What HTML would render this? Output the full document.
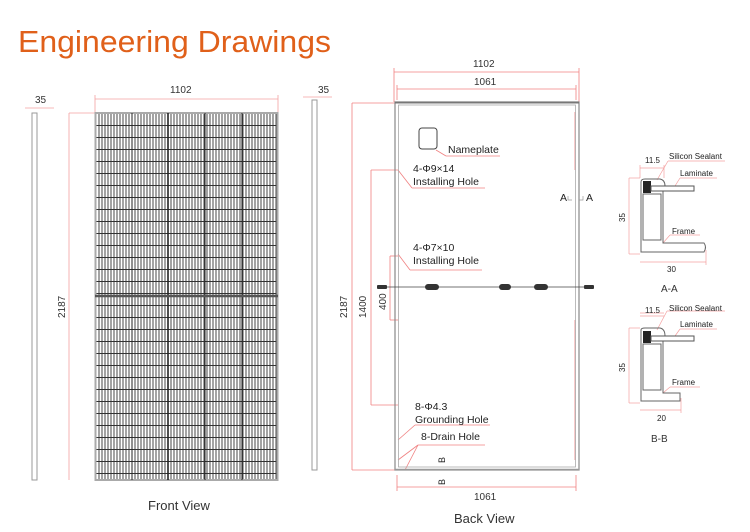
<!DOCTYPE html>
<html><head><meta charset="utf-8"><style>
html,body{margin:0;padding:0;background:#fff;}
svg{display:block;font-family:"Liberation Sans",sans-serif;}
</style></head><body>
<svg width="750" height="532" viewBox="0 0 750 532" xmlns="http://www.w3.org/2000/svg">
<defs>
<pattern id="cells" x="95" y="113" width="3" height="12" patternUnits="userSpaceOnUse">
<rect width="3" height="12" fill="#fff"/>
<line x1="1" y1="0" x2="1" y2="12" stroke="#333" stroke-width="0.9"/>
<line x1="0" y1="0.5" x2="3" y2="0.5" stroke="#333" stroke-width="1"/>
</pattern>
</defs>
<text x="18" y="52" font-size="31" fill="#e0601a" textLength="313" lengthAdjust="spacingAndGlyphs">Engineering Drawings</text>

<!-- left side profile -->
<g stroke="#f4a0a0" stroke-width="0.8" fill="none">
<line x1="25" y1="108" x2="54" y2="108"/>
<line x1="69" y1="113" x2="69" y2="480"/>
<line x1="69" y1="113" x2="95" y2="113"/>
<line x1="95" y1="99" x2="278" y2="99"/>
<line x1="95" y1="95" x2="95" y2="112"/>
<line x1="278" y1="95" x2="278" y2="112"/>
<line x1="303" y1="97" x2="332" y2="97"/>
</g>
<text x="35" y="103" font-size="10" fill="#333">35</text>
<text x="170" y="93" font-size="10" fill="#333">1102</text>
<text x="318" y="93" font-size="10" fill="#333">35</text>
<text transform="translate(65,318) rotate(-90)" font-size="10" fill="#333">2187</text>
<rect x="32" y="113" width="5" height="367" fill="none" stroke="#999" stroke-width="1"/>
<rect x="312" y="100" width="5" height="370" fill="none" stroke="#999" stroke-width="1"/>

<!-- front panel -->
<rect x="95" y="113" width="183" height="367" fill="url(#cells)"/>
<rect x="95.5" y="113" width="182" height="367" fill="none" stroke="#aaa" stroke-width="2"/>
<g stroke="#222" stroke-width="1.6">
<line x1="168" y1="113" x2="168" y2="480"/>
<line x1="132" y1="113" x2="132" y2="480" stroke-width="1"/>
<line x1="205" y1="113" x2="205" y2="480" stroke-width="1"/>
<line x1="242" y1="113" x2="242" y2="480" stroke-width="1"/>
</g>
<line x1="95" y1="296" x2="278" y2="296" stroke="#555" stroke-width="2.5"/>
<text x="148" y="510" font-size="13" fill="#333">Front View</text>

<!-- back view dims -->
<g stroke="#f08080" stroke-width="0.8" fill="none">
<line x1="394" y1="72" x2="579" y2="72"/>
<line x1="394" y1="68" x2="394" y2="102"/>
<line x1="579" y1="68" x2="579" y2="102"/>
<line x1="397" y1="89" x2="576" y2="89"/>
<line x1="397" y1="85" x2="397" y2="100"/>
<line x1="576" y1="85" x2="576" y2="100"/>
<line x1="352" y1="103" x2="395" y2="103"/>
<line x1="352" y1="103" x2="352" y2="470"/>
<line x1="352" y1="470" x2="395" y2="470"/>
<line x1="371" y1="170" x2="398" y2="170"/>
<line x1="371" y1="170" x2="371" y2="405"/>
<line x1="371" y1="405" x2="398" y2="405"/>
<line x1="390" y1="256" x2="398" y2="256"/>
<line x1="390" y1="256" x2="390" y2="320"/>
<line x1="390" y1="320" x2="398" y2="320"/>
<line x1="397" y1="475" x2="397" y2="491"/>
<line x1="576" y1="475" x2="576" y2="491"/>
<line x1="397" y1="487" x2="576" y2="487"/>
<line x1="575" y1="112" x2="575" y2="170"/>
<line x1="575" y1="320" x2="575" y2="460"/>
<line x1="436" y1="150" x2="446" y2="156"/><line x1="446" y1="156" x2="500" y2="156"/>
<line x1="398" y1="170" x2="412" y2="188"/><line x1="412" y1="188" x2="485" y2="188"/>
<line x1="398" y1="254" x2="410" y2="270"/><line x1="410" y1="270" x2="482" y2="270"/>
<line x1="398" y1="440" x2="415" y2="425"/><line x1="415" y1="425" x2="490" y2="425"/>
<line x1="398" y1="460" x2="418" y2="445"/><line x1="418" y1="445" x2="485" y2="445"/>
<line x1="405" y1="470" x2="418" y2="445"/>
</g>
<text x="473" y="67" font-size="10" fill="#333">1102</text>
<text x="474" y="85" font-size="10" fill="#333">1061</text>
<text x="474" y="500" font-size="10" fill="#333">1061</text>
<text transform="translate(347,318) rotate(-90)" font-size="10" fill="#333">2187</text>
<text transform="translate(366,318) rotate(-90)" font-size="10" fill="#333">1400</text>
<text transform="translate(386,310) rotate(-90)" font-size="10" fill="#333">400</text>

<!-- back frame -->
<rect x="395" y="102" width="184" height="368" fill="none" stroke="#888" stroke-width="1.2"/>
<rect x="398.5" y="105" width="177" height="362" fill="none" stroke="#aaa" stroke-width="0.8"/>
<line x1="395" y1="102.5" x2="579" y2="102.5" stroke="#777" stroke-width="2"/>
<line x1="395" y1="469.5" x2="579" y2="469.5" stroke="#999" stroke-width="1.5"/>
<rect x="419" y="128" width="18" height="21" rx="3" fill="none" stroke="#444" stroke-width="1"/>
<g font-size="10.5" fill="#222">
<text x="448" y="153">Nameplate</text>
<text x="413" y="172">4-Φ9×14</text>
<text x="413" y="185">Installing Hole</text>
<text x="413" y="251">4-Φ7×10</text>
<text x="413" y="264">Installing Hole</text>
<text x="415" y="410">8-Φ4.3</text>
<text x="415" y="423">Grounding Hole</text>
<text x="421" y="440">8-Drain Hole</text>
<text x="560" y="201">A</text>
<text x="586" y="201">A</text>
<text transform="translate(445,485) rotate(-90)" font-size="9">B</text>
<text transform="translate(445,463) rotate(-90)" font-size="9">B</text>
</g>
<g stroke="#999" stroke-width="0.7" fill="none">
<path d="M568 196 L568 200 L572 200"/><path d="M583 196 L583 200 L579 200"/>
</g>
<text x="454" y="523" font-size="13" fill="#333">Back View</text>

<!-- cable/junction -->
<line x1="378" y1="287" x2="590" y2="287" stroke="#444" stroke-width="0.8"/>
<g fill="#333">
<rect x="377" y="285" width="10" height="4" rx="1"/>
<rect x="425" y="284" width="14" height="6" rx="3"/>
<rect x="499" y="284" width="12" height="6" rx="3"/>
<rect x="534" y="284" width="14" height="6" rx="3"/>
<rect x="584" y="285" width="10" height="4" rx="1"/>
</g>

<!-- sections -->
<g stroke="#f4a0a0" stroke-width="0.7" fill="none">
<line x1="629" y1="178" x2="629" y2="254"/>
<line x1="629" y1="178" x2="640" y2="178"/>
<line x1="629" y1="254" x2="640" y2="254"/>
<line x1="640" y1="168" x2="664" y2="168"/>
<line x1="640" y1="165" x2="640" y2="178"/>
<line x1="664" y1="165" x2="664" y2="178"/>
<line x1="640" y1="262" x2="706" y2="262"/>
<line x1="706" y1="250" x2="706" y2="265"/>
<line x1="657" y1="180" x2="668" y2="161"/><line x1="668" y1="161" x2="725" y2="161"/>
<line x1="675" y1="186" x2="680" y2="178"/><line x1="680" y1="178" x2="717" y2="178"/>
<line x1="663" y1="243" x2="670" y2="235"/><line x1="670" y1="235" x2="700" y2="235"/>
<line x1="629" y1="328" x2="629" y2="403"/>
<line x1="629" y1="328" x2="640" y2="328"/>
<line x1="629" y1="403" x2="640" y2="403"/>
<line x1="640" y1="316" x2="664" y2="316"/>
<line x1="640" y1="313" x2="664" y2="313"/>
<line x1="640" y1="410" x2="681" y2="410"/>
<line x1="681" y1="398" x2="681" y2="413"/>
<line x1="657" y1="330" x2="667" y2="311"/><line x1="667" y1="311" x2="725" y2="311"/>
<line x1="675" y1="336" x2="680" y2="329"/><line x1="680" y1="329" x2="717" y2="329"/>
<line x1="663" y1="393" x2="670" y2="387"/><line x1="670" y1="387" x2="700" y2="387"/>
</g>
<g fill="none" stroke="#666" stroke-width="1">
<path d="M641 182 Q641 179 645 179 L660 179 Q665 180 665 186 L663 190 L663 243 L704 243 Q707 247 704 252 L641 252 Z"/>
<rect x="643" y="194" width="18" height="46"/>
<path d="M641 330 Q641 328 645 328 L660 328 Q665 329 665 336 L663 340 L663 393 L680 393 L680 401 L641 401 Z"/>
<rect x="643" y="344" width="18" height="46"/>
</g>
<rect x="643" y="181" width="8" height="12" fill="#222"/>
<rect x="651" y="186" width="43" height="5" fill="#fff" stroke="#555" stroke-width="1"/>
<rect x="643" y="331" width="8" height="12" fill="#222"/>
<rect x="651" y="336" width="43" height="5" fill="#fff" stroke="#555" stroke-width="1"/>
<g font-size="8" fill="#222">
<text x="645" y="163">11.5</text>
<text x="669" y="159">Silicon Sealant</text>
<text x="680" y="176">Laminate</text>
<text x="672" y="234">Frame</text>
<text x="667" y="272">30</text>
<text transform="translate(625,222) rotate(-90)">35</text>
<text x="645" y="313">11.5</text>
<text x="669" y="311">Silicon Sealant</text>
<text x="680" y="327">Laminate</text>
<text x="672" y="385">Frame</text>
<text x="657" y="421">20</text>
<text transform="translate(625,372) rotate(-90)">35</text>
</g>
<text x="661" y="292" font-size="10" fill="#333">A-A</text>
<text x="651" y="442" font-size="10" fill="#333">B-B</text>
</svg>
</body></html>
